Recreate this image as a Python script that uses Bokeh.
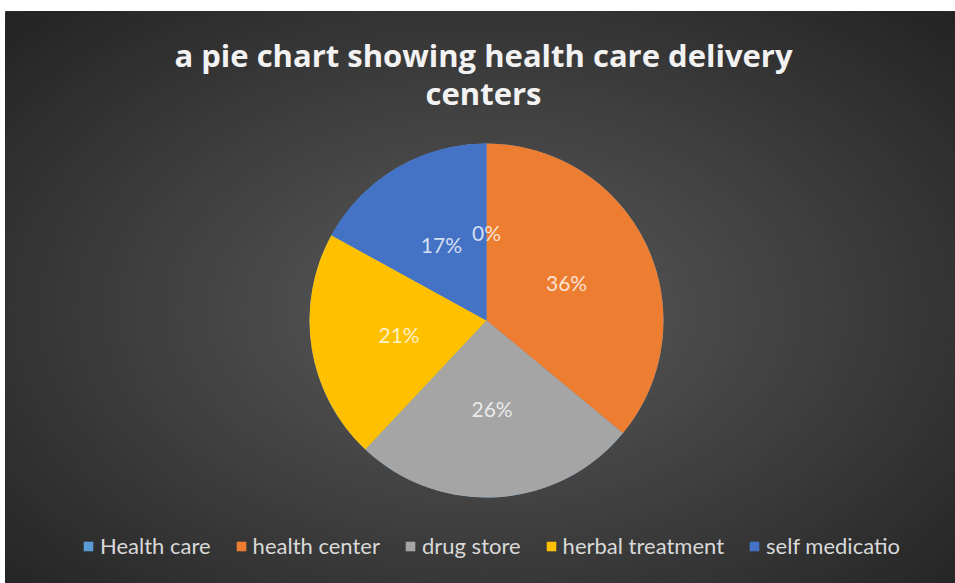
import numpy as np
from bokeh.plotting import figure
from bokeh.models import ColumnDataSource, Legend, LegendItem
from bokeh.core.properties import value
from bokeh.embed import file_html
from bokeh.resources import INLINE

# ---- data ----
categories = ["Health care", "health center", "drug store", "herbal treatment", "self medicatio"]
values = [0, 36, 26, 21, 17]
labels = ["0%", "36%", "26%", "21%", "17%"]
colors = ["#5B9BD5", "#ED7D31", "#A5A5A5", "#FFC000", "#4472C4"]
title_lines = ["a pie chart showing health care delivery", "centers"]

W, H = 955, 583
L, T = 5, 11
p = figure(width=W, height=H, x_range=(L, W), y_range=(0, H - T),
           output_backend="svg", toolbar_location=None,
           min_border_left=L, min_border_top=T, min_border_right=0, min_border_bottom=0)
p.axis.visible = False
p.grid.visible = False
p.outline_line_color = None
p.background_fill_color = "#242424"
p.border_fill_color = "white"

# ---- radial gradient background ----
gx, gy = 482, 583 - 310
N = 70
c_in = np.array([92, 92, 92])
c_out = np.array([34, 34, 34])
maxw = 1.45 * W
maxh = 1.45 * H * 1.05
ws, hs, cols = [], [], []
for i in range(N):
    t = 1 - i / N
    c = c_out + (c_in - c_out) * (1 - t)
    ws.append(maxw * t)
    hs.append(maxh * t)
    cols.append("#%02x%02x%02x" % tuple(int(v) for v in c))
p.ellipse(x=gx, y=gy, width=ws, height=hs, fill_color=cols, line_color=None)

# ---- pie ----
cx, cy, R = 486, 583 - 320, 177
total = sum(values)
fr = np.array(values) / total
cum = np.concatenate([[0], np.cumsum(fr)])
starts = np.pi / 2 - cum[:-1] * 2 * np.pi
ends = np.pi / 2 - cum[1:] * 2 * np.pi
mids = (starts + ends) / 2

items = []
for i, cat in enumerate(categories):
    src = ColumnDataSource(dict(x=[cx], y=[cy], s=[starts[i]], e=[ends[i]]))
    r = p.wedge(x="x", y="y", radius=R, start_angle="s", end_angle="e",
                direction="clock", fill_color=colors[i], line_color=None, source=src)
    items.append(LegendItem(label=cat, renderers=[r]))

lr = 0.5 * R
lsrc = ColumnDataSource(dict(x=cx + lr * np.cos(mids), y=cy + lr * np.sin(mids), t=labels))
p.text(x="x", y="y", text="t", source=lsrc, text_align="center", text_baseline="middle",
       text_font=value("Lato"), text_font_size="21px", text_color="white", text_alpha=0.78)

# ---- title ----
tsrc = ColumnDataSource(dict(x=[483, 483], y=[583 - 54, 583 - 92], t=title_lines))
p.text(x="x", y="y", text="t", source=tsrc, text_align="center", text_baseline="alphabetic",
       text_font=value("Open Sans"), text_font_style="bold", text_font_size="31px",
       text_color="#f2f2f2")

# ---- legend ----
legend = Legend(items=items, orientation="horizontal", location=(77, 24),
                background_fill_alpha=0, border_line_alpha=0,
                label_text_color="#d9d9d9", label_text_font="Lato",
                label_text_font_size="22px", glyph_width=12, glyph_height=12,
                label_standoff=6, spacing=24, padding=0, margin=0,
                label_height=22)
p.add_layout(legend, "center")

open("out.html", "w").write(file_html(p, INLINE))
